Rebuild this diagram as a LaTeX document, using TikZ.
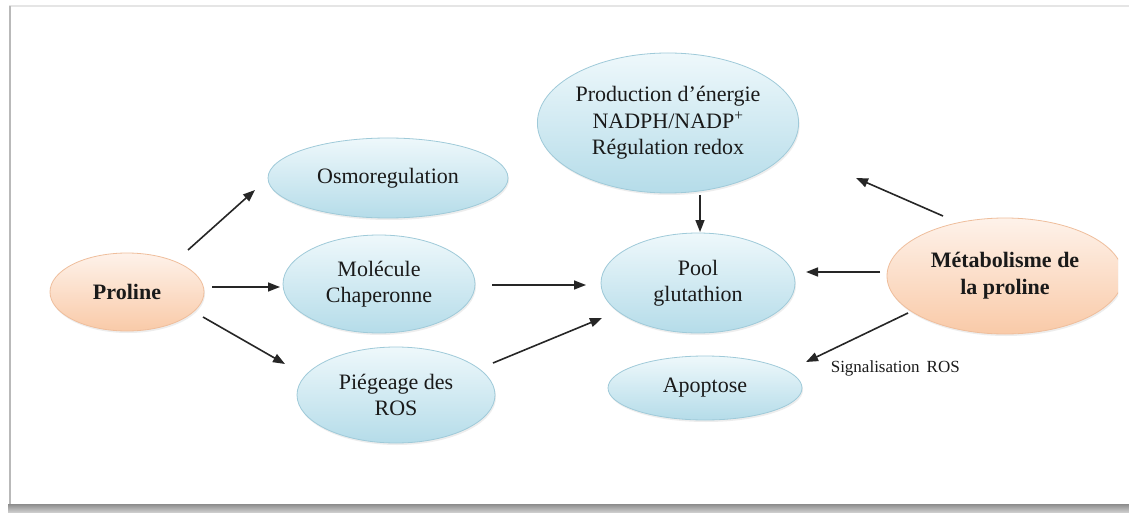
\documentclass[tikz,border=0pt]{standalone}
\usepackage{fontspec}
\setmainfont{Liberation Serif}
\usetikzlibrary{shapes.geometric,arrows.meta,shadows}
\definecolor{txt}{HTML}{1A1A1A}
\definecolor{bluetop}{HTML}{EEF8FB}
\definecolor{bluebot}{HTML}{B5DCE9}
\definecolor{blueln}{HTML}{9FCAD9}
\definecolor{ortop}{HTML}{FEF2EA}
\definecolor{orbot}{HTML}{F9CAA8}
\definecolor{orln}{HTML}{EFBE9C}
\definecolor{arrc}{HTML}{262626}
\tikzset{
  bubble/.style={ellipse, draw=blueln, line width=0.8pt, top color=bluetop, bottom color=bluebot,
    inner sep=0pt, align=center, text=txt, font=\fontsize{22}{26.5}\selectfont,
    drop shadow={opacity=0.14, shadow xshift=1pt, shadow yshift=-2pt}},
  obubble/.style={ellipse, draw=orln, line width=0.8pt, top color=ortop, bottom color=orbot,
    inner sep=0pt, align=center, text=txt, font=\fontsize{22}{27}\selectfont\bfseries,
    drop shadow={opacity=0.14, shadow xshift=1pt, shadow yshift=-2pt}},
  arr/.style={draw=arrc, line width=1.6pt, -{Triangle[length=12pt,width=9pt]}},
  lbl/.style={text=txt, font=\fontsize{17}{20}\selectfont, inner sep=0pt}
}
\begin{document}
\begin{tikzpicture}[x=1pt,y=-1pt]
\useasboundingbox (0,0) rectangle (1129,513);
% frame
\fill[white] (9,6) rectangle (1129,508);
\draw[gray!20, line width=2pt] (9,6) -- (1129,6);
\draw[gray!55, line width=2.5pt] (10,6) -- (10,507);
\fill[top color=gray!90, bottom color=gray!40] (8,504) rectangle (1129,512);
% nodes
\node[obubble, minimum width=154pt, minimum height=78pt] (proline) at (127,292) {Proline};
\node[bubble, minimum width=240pt, minimum height=80pt] (osmo) at (388,178) {Osmoregulation};
\node[bubble, minimum width=192pt, minimum height=98pt] (chap) at (379,284) {Molécule\\Chaperonne};
\node[bubble, minimum width=198pt, minimum height=96pt] (piege) at (396,395) {Piégeage des\\ROS};
\node[bubble, minimum width=244pt, minimum height=140pt] (prod) at (668,123) {Production d'énergie\\NADPH/NADP\textsuperscript{+}\\Régulation redox};
\node[bubble, minimum width=194pt, minimum height=100pt] (pool) at (698,283) {Pool\\glutathion};
\node[bubble, minimum width=194pt, minimum height=64pt] (apop) at (705,388) {Apoptose};
\begin{scope}
\clip (0,0) rectangle (1118,513);
\node[obubble, minimum width=236pt, minimum height=116pt] (meta) at (1005,276) {Métabolisme de\\la proline};
\end{scope}
% connectors
\draw[arr] ([shift={(61,-42)}]proline.center) -- ([shift={(-133,12)}]osmo.center);
\draw[arr] ([shift={(85,-5)}]proline.center) -- ([shift={(-99,3)}]chap.center);
\draw[arr] ([shift={(76,25)}]proline.center) -- ([shift={(-111,-31)}]piege.center);
\draw[arr] ([shift={(113,1)}]chap.center) -- ([shift={(-112,2)}]pool.center);
\draw[arr] ([shift={(97,-32)}]piege.center) -- ([shift={(-96,35)}]pool.center);
\draw[arr] ([shift={(32,72)}]prod.center) -- ([shift={(2,-51)}]pool.center);
\draw[arr] ([shift={(-62,-60)}]meta.center) -- ([shift={(188,55)}]prod.center);
\draw[arr] ([shift={(-125,-4)}]meta.center) -- ([shift={(108,-11)}]pool.center);
\draw[arr] ([shift={(-97,37)}]meta.center) -- ([shift={(101,-26)}]apop.center)
  node[lbl, pos=1, anchor=west, xshift=24pt, yshift=-6pt] (sig) {Signalisation\, ROS};
\end{tikzpicture}
\end{document}
